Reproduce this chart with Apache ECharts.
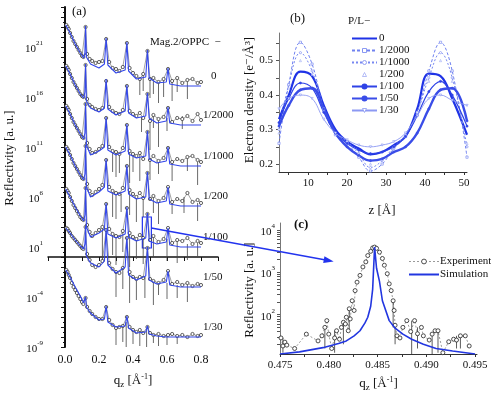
<!DOCTYPE html>
<html><head><meta charset="utf-8">
<script src="https://cdn.jsdelivr.net/npm/echarts@6/dist/echarts.min.js"></script>
<style>html,body{margin:0;padding:0;background:#fff}#c{width:491px;height:396px}</style>
</head><body><div id="c"></div>
<script>
const SERIF = '"Liberation Serif","DejaVu Serif",serif';
const INK = '#111';

// ---------- Panel (a): reflectivity curves (values are log10 of reflectivity) ----------
const CURVE_LABELS = ['0', '1/2000', '1/1000', '1/200', '1/100', '1/50', '1/30'];
const Q_SIM = [0.005, 0.03, 0.06, 0.09, 0.11, 0.117, 0.121, 0.126, 0.15, 0.2, 0.232, 0.242, 0.252, 0.3, 0.354, 0.364, 0.374, 0.42, 0.475, 0.485, 0.495, 0.54, 0.596, 0.606, 0.616, 0.68, 0.8];
const SIM_0    = [23.2, 22.4, 21.3, 20.4, 19.9, 20.4, 23.1, 20.0, 19.3, 18.9, 19.3, 21.9, 19.2, 18.4, 18.7, 21.5, 18.6, 17.8, 18.0, 20.7, 17.9, 17.4, 17.5, 18.9, 17.3, 17.1, 17.1];
const SIM_2000 = [19.1, 18.3, 17.2, 16.3, 15.9, 16.5, 19.3, 15.6, 14.9, 14.5, 14.9, 17.8, 14.8, 14.2, 14.6, 17.2, 14.4, 13.9, 14.1, 16.4, 13.9, 13.4, 13.6, 15.0, 13.4, 13.2, 13.2];
const SIM_1000 = [15.1, 14.3, 13.2, 12.3, 11.8, 12.4, 15.4, 11.2, 10.2, 10.6, 11.0, 14.0, 10.7, 10.2, 10.6, 13.3, 10.3, 9.9, 10.1, 12.6, 9.8, 9.4, 9.6, 11.0, 9.3, 9.1, 9.1];
const SIM_200  = [11.0, 10.2, 9.1, 8.2, 7.7, 8.3, 11.2, 7.0, 6.0, 6.5, 7.0, 9.8, 6.6, 6.2, 6.6, 9.2, 6.3, 5.8, 6.0, 8.5, 5.8, 5.4, 5.6, 7.0, 5.3, 5.1, 5.1];
const SIM_100  = [6.8, 6.0, 5.0, 4.1, 3.6, 4.2, 7.0, 3.0, 2.0, 2.4, 2.8, 5.4, 2.3, 1.9, 2.3, 5.0, 2.0, 1.6, 1.9, 4.4, 1.6, 1.3, 1.5, 2.9, 1.2, 1.0, 1.0];
const SIM_50   = [2.9, 2.4, 1.7, 1.1, 0.8, 1.3, 3.1, 0.1, -0.6, -1.0, -0.4, 2.8, -0.8, -1.6, -1.0, 2.0, -1.8, -2.3, -1.9, 1.0, -2.3, -2.7, -2.5, -1.4, -2.8, -3.0, -3.0];
const SIM_30   = [-1.3, -2.0, -3.0, -3.9, -4.6, -4.8, -4.0, -5.0, -5.6, -6.3, -6.2, -4.9, -6.5, -7.0, -6.9, -5.9, -7.1, -7.6, -7.5, -6.9, -7.7, -7.9, -8.0, -8.0, -8.0, -8.0, -8.0];

const Q_EXP = [0.008, 0.015, 0.022, 0.03, 0.04, 0.05, 0.06, 0.07, 0.08, 0.09, 0.1, 0.108, 0.121, 0.13, 0.145, 0.16, 0.18, 0.2, 0.22, 0.242, 0.26, 0.28, 0.3, 0.32, 0.34, 0.364, 0.38, 0.4, 0.42, 0.44, 0.46, 0.485, 0.5, 0.52, 0.55, 0.58, 0.606, 0.63, 0.66, 0.69, 0.72, 0.75, 0.78, 0.8];
const EXP_0    = [23.2, 23.0, 22.8, 22.4, 22.0, 21.6, 21.3, 21.0, 20.7, 20.4, 20.1, 20.0, 23.0, 20.3, 19.8, 19.6, 19.4, 19.5, 19.6, 21.8, 19.5, 18.9, 18.8, 18.6, 19.0, 21.4, 18.9, 18.4, 18.1, 17.8, 18.3, 20.6, 17.8, 17.9, 17.5, 17.8, 18.8, 17.6, 17.9, 17.4, 17.7, 17.8, 17.4, 17.5];
const EXP_2000 = [19.1, 18.9, 18.7, 18.3, 17.9, 17.5, 17.2, 16.9, 16.6, 16.3, 16.1, 16.0, 19.2, 15.8, 15.2, 15.0, 14.8, 14.7, 14.9, 17.6, 15.0, 14.6, 14.4, 14.3, 14.7, 17.1, 14.6, 14.3, 14.1, 14.4, 13.9, 16.3, 13.6, 14.2, 13.8, 14.0, 14.9, 13.5, 13.9, 13.8, 14.1, 13.6, 14.3, 13.7];
const EXP_1000 = [15.1, 14.9, 14.7, 14.3, 13.9, 13.5, 13.2, 12.9, 12.6, 12.3, 12.0, 11.9, 15.3, 11.4, 10.8, 10.4, 10.5, 10.8, 11.1, 13.9, 11.0, 10.6, 10.5, 10.3, 10.9, 13.2, 10.6, 10.3, 10.1, 10.4, 9.8, 12.5, 9.7, 10.1, 9.6, 9.9, 10.9, 9.5, 9.8, 9.6, 10.0, 10.1, 9.7, 9.5];
const EXP_200  = [11.0, 10.8, 10.6, 10.2, 9.8, 9.4, 9.1, 8.8, 8.5, 8.2, 7.9, 7.8, 11.1, 7.3, 6.6, 6.2, 6.5, 6.8, 7.2, 9.7, 7.0, 6.6, 6.4, 6.3, 6.9, 9.1, 6.7, 6.3, 6.0, 6.4, 5.9, 8.4, 5.8, 6.1, 5.6, 5.9, 7.0, 5.5, 5.8, 5.6, 6.4, 5.5, 5.7, 5.4];
const EXP_100  = [6.8, 6.6, 6.4, 6.0, 5.6, 5.2, 4.9, 4.6, 4.3, 4.0, 3.8, 3.7, 6.9, 3.2, 2.5, 2.1, 2.4, 2.7, 3.0, 5.3, 2.8, 2.3, 2.1, 2.0, 2.6, 4.9, 2.4, 2.0, 1.8, 2.2, 1.9, 4.3, 1.7, 2.1, 1.5, 1.8, 2.9, 1.4, 1.7, 1.6, 1.9, 1.3, 1.6, 1.4];
const EXP_50   = [2.9, 2.8, 2.6, 2.4, 2.1, 1.9, 1.7, 1.5, 1.3, 1.1, 0.9, 0.8, 3.0, 0.3, -0.3, -0.8, -1.0, -0.8, -0.4, 2.7, -0.6, -1.2, -1.5, -1.6, -1.1, 1.9, -1.5, -2.0, -2.2, -2.0, -2.1, 0.9, -2.2, -2.4, -2.6, -2.3, -1.4, -2.7, -2.5, -2.8, -2.6, -2.9, -2.7, -2.8];
const EXP_30   = [-1.3, -1.5, -1.8, -2.1, -2.6, -3.0, -3.3, -3.6, -3.9, -4.2, -4.5, -4.7, -4.1, -5.0, -5.4, -5.7, -6.0, -6.2, -6.2, -5.0, -6.3, -6.8, -7.1, -7.0, -6.9, -6.0, -7.0, -7.3, -7.5, -7.3, -7.6, -7.0, -7.6, -7.8, -7.7, -7.9, -7.8, -7.7, -7.9, -7.8, -8.0, -7.7, -7.9, -7.8];

// error bars: [qz, top, bottom] in log10 units
const ERR_0    = [[0.44,17.8,16.2],[0.46,18.3,16.6],[0.5,17.8,15.9],[0.52,17.9,16.3],[0.55,17.5,15.4],[0.58,17.8,16.0],[0.63,17.6,15.6],[0.66,17.9,16.5],[0.72,17.7,15.8]];
const ERR_2000 = [[0.45,14.0,12.5],[0.5,13.6,10.7],[0.52,14.2,12.9],[0.55,13.8,11.0],[0.6,13.9,12.6],[0.69,14.1,12.8]];
const ERR_1000 = [[0.28,10.6,8.5],[0.3,10.5,8.0],[0.32,10.3,8.4],[0.38,10.6,7.4],[0.4,10.3,8.5],[0.44,10.4,7.6],[0.5,9.7,7.7],[0.55,9.6,8.3],[0.63,9.5,7.6],[0.72,10.1,8.6],[0.78,9.5,7.2]];
const ERR_200  = [[0.28,6.6,4.0],[0.3,6.4,3.8],[0.33,6.3,4.5],[0.38,6.7,4.2],[0.42,6.0,3.5],[0.46,5.9,4.0],[0.52,6.1,4.4],[0.55,5.6,3.3],[0.63,5.5,4.3],[0.7,6.0,4.4],[0.78,5.4,3.6]];
const ERR_100  = [[0.22,3.0,-0.5],[0.28,2.3,0.2],[0.3,2.1,-0.8],[0.34,2.6,0.5],[0.38,2.4,-1.0],[0.42,1.8,-0.2],[0.46,1.9,-0.7],[0.52,2.1,0.0],[0.6,1.8,-0.4],[0.66,1.6,-0.6],[0.72,1.3,-0.3],[0.78,1.4,0.1]];
const ERR_50   = [[0.3,-1.5,-4.0],[0.34,-1.1,-3.2],[0.38,-1.5,-4.6],[0.42,-2.2,-4.3],[0.47,-2.0,-4.1],[0.52,-2.4,-4.8],[0.55,-2.6,-3.8],[0.6,-2.6,-4.2],[0.66,-2.8,-4.1],[0.72,-2.6,-4.5]];
const ERR_30   = [[0.3,-7.1,-8.8],[0.34,-6.9,-8.5],[0.36,-6.5,-9.0],[0.4,-7.3,-8.7],[0.44,-7.3,-8.9],[0.48,-7.2,-9.0],[0.52,-7.8,-8.6],[0.55,-7.7,-8.9],[0.6,-7.8,-8.8],[0.66,-7.8,-8.7]];

const A_Y_TICKLABELS = [-9, -4, 1, 6, 11, 16, 21];
const A_X_TICKLABELS = [0.0, 0.2, 0.4, 0.6, 0.8];

// ---------- Panel (b): electron density profiles ----------
const Z = [2.5, 5, 8, 11, 14, 17, 20, 23, 26, 29, 32, 35, 38, 41, 44, 47, 50.8];
const ED_0    = [0.33, 0.40, 0.468, 0.455, 0.37, 0.30, 0.265, 0.245, 0.228, 0.235, 0.255, 0.28, 0.36, 0.462, 0.455, 0.39, 0.285];
const ED_2000 = [0.26, 0.43, 0.553, 0.49, 0.36, 0.285, 0.26, 0.22, 0.18, 0.20, 0.245, 0.28, 0.35, 0.47, 0.553, 0.47, 0.22];
const ED_1000 = [0.30, 0.43, 0.523, 0.47, 0.36, 0.29, 0.265, 0.23, 0.19, 0.21, 0.25, 0.285, 0.35, 0.45, 0.523, 0.45, 0.25];
const ED_200  = [0.29, 0.42, 0.50, 0.46, 0.355, 0.29, 0.262, 0.232, 0.20, 0.215, 0.25, 0.283, 0.345, 0.44, 0.50, 0.44, 0.26];
const ED_100  = [0.32, 0.39, 0.435, 0.42, 0.35, 0.29, 0.26, 0.24, 0.23, 0.235, 0.25, 0.28, 0.34, 0.41, 0.44, 0.40, 0.31];
const ED_50   = [0.31, 0.37, 0.415, 0.42, 0.36, 0.29, 0.25, 0.225, 0.21, 0.215, 0.235, 0.25, 0.29, 0.36, 0.415, 0.42, 0.325];
const ED_30   = [0.36, 0.39, 0.40, 0.39, 0.33, 0.29, 0.27, 0.255, 0.25, 0.255, 0.265, 0.29, 0.34, 0.39, 0.40, 0.385, 0.37];
const B_X_TICKLABELS = [10, 20, 30, 40, 50];
const B_Y_TICKLABELS = [0.2, 0.3, 0.4, 0.5];

// ---------- Panel (c): 4th Bragg peak of 1/100 (log10 reflectivity) ----------
const C_EXP = [[0.4751,1.45],[0.4753,1.26],[0.4755,1.35],[0.4757,1.28],[0.4765,1.2],[0.4777,1.54],[0.4789,1.38],[0.4793,1.5],[0.4796,1.70],[0.4798,1.86],[0.48,1.54],[0.4803,1.2],[0.4806,1.45],[0.4808,1.62],[0.4811,1.42],[0.4813,1.70],[0.4815,1.82],[0.4817,1.78],[0.4818,1.94],[0.482,1.62],[0.4821,2.14],[0.4822,1.9],[0.4824,2.33],[0.4826,2.1],[0.4827,2.57],[0.4829,2.77],[0.4832,2.93],[0.4835,3.13],[0.4838,3.25],[0.484,3.40],[0.4843,3.5],[0.4845,3.58],[0.4847,3.6],[0.4849,3.57],[0.4852,3.48],[0.4855,3.33],[0.4857,3.17],[0.486,2.97],[0.4862,2.73],[0.4864,2.57],[0.4866,2.33],[0.4867,2.1],[0.4868,1.75],[0.487,1.5],[0.4873,1.45],[0.4876,1.70],[0.488,1.86],[0.4884,1.6],[0.4888,1.86],[0.4891,1.55],[0.4895,1.70],[0.4897,1.5],[0.4903,1.4],[0.4906,1.54],[0.4909,1.62],[0.4912,1.62],[0.4917,1.1],[0.4923,1.36],[0.4928,1.42],[0.4931,1.4],[0.4935,1.5],[0.494,1.5],[0.4944,1.26]];
const C_ERR = [[0.4753,1.45,1.1],[0.4796,1.70,1.2],[0.4806,1.62,1.1],[0.4815,1.82,1.3],[0.4821,2.14,1.6],[0.4866,2.33,1.7],[0.4868,1.75,1.3],[0.4885,1.86,1.07],[0.4891,1.7,1.2],[0.4906,1.54,1.07],[0.4912,1.62,1.1],[0.4931,1.5,1.2],[0.4935,1.5,1.2]];
const C_SIM = [[0.475,1.07],[0.477,1.12],[0.4794,1.22],[0.481,1.32],[0.4818,1.38],[0.4826,1.5],[0.4832,1.62],[0.4837,1.8],[0.484,1.94],[0.4843,2.2],[0.4845,2.6],[0.4847,3.6],[0.4849,3.1],[0.4852,2.79],[0.4855,2.33],[0.4862,1.86],[0.4868,1.68],[0.4876,1.54],[0.4885,1.42],[0.4897,1.30],[0.491,1.2],[0.4927,1.14],[0.495,1.07]];
const C_X_TICKLABELS = [0.475, 0.480, 0.485, 0.490, 0.495];
const C_Y_TICKLABELS = [2, 3, 4];

// ---------- build ----------
const chart = echarts.init(document.getElementById('c'), null, {renderer: 'canvas'});
const SIMS = [SIM_0, SIM_2000, SIM_1000, SIM_200, SIM_100, SIM_50, SIM_30];
const EXPS = [EXP_0, EXP_2000, EXP_1000, EXP_200, EXP_100, EXP_50, EXP_30];
const ERRS = [ERR_0, ERR_2000, ERR_1000, ERR_200, ERR_100, ERR_50, ERR_30];

function errRender(color, width) {
  return function (params, api) {
    const p1 = api.coord([api.value(0), api.value(1)]);
    const p2 = api.coord([api.value(0), api.value(2)]);
    return {type: 'line', shape: {x1: p1[0], y1: p1[1], x2: p2[0], y2: p2[1]},
            style: {stroke: color, lineWidth: width}};
  };
}
const supRich = {
  b: {fontSize: 11, fontFamily: SERIF, color: INK, lineHeight: 15, verticalAlign: 'bottom'},
  s: {fontSize: 7, fontFamily: SERIF, color: INK, lineHeight: 15, verticalAlign: 'top'}
};
const qzName = '{a|q}{sub|z}{a| [Å}{sup|-1}{a|]}';
const qzRich = {
  a: {fontSize: 13, fontFamily: SERIF, color: INK, lineHeight: 16, verticalAlign: 'middle'},
  sub: {fontSize: 9, fontFamily: SERIF, color: INK, lineHeight: 16, verticalAlign: 'bottom'},
  sup: {fontSize: 8, fontFamily: SERIF, color: INK, lineHeight: 16, verticalAlign: 'top'}
};

const series = [];
for (let i = 0; i < 7; i++) {
  series.push({
    type: 'custom', xAxisIndex: 0, yAxisIndex: 0, z: 1, silent: true,
    renderItem: errRender('#444', 0.8), encode: {x: 0, y: [1, 2]}, data: ERRS[i], clip: true
  });
  series.push({
    type: 'line', xAxisIndex: 0, yAxisIndex: 0, z: 2, silent: true,
    data: Q_EXP.map((q, j) => [q, EXPS[i][j]]),
    symbol: 'circle', symbolSize: 3.2, showSymbol: true,
    itemStyle: {color: '#fff', borderColor: '#222', borderWidth: 0.7},
    lineStyle: {color: '#444', width: 0.5}
  });
  const sim = {
    type: 'line', xAxisIndex: 0, yAxisIndex: 0, z: 3, silent: true,
    data: Q_SIM.map((q, j) => [q, SIMS[i][j]]),
    showSymbol: false, lineStyle: {color: '#3347ea', width: 1.1},
    endLabel: {show: true, formatter: CURVE_LABELS[i], offset: [i === 0 ? 2 : -6, -10],
               fontSize: 11, fontFamily: SERIF, color: INK}
  };
  if (i === 4) {
    sim.markArea = {silent: true, itemStyle: {color: 'rgba(0,0,0,0)', borderColor: '#2233ee', borderWidth: 1.2},
                    data: [[{coord: [0.455, 4.0]}, {coord: [0.508, 0.9]}]]};
  }
  series.push(sim);
}

const bStyles = [
  {name: '0', d: ED_0, color: '#1f33e6', width: 2.2, type: 'solid', symbol: 'none'},
  {name: '1/2000', d: ED_2000, color: '#7082f0', width: 1, type: [3, 2], symbol: 'rect', hollow: true},
  {name: '1/1000', d: ED_1000, color: '#7888f1', width: 1, type: [2, 2], symbol: 'circle', hollow: true},
  {name: '1/200', d: ED_200, color: '#8a97f2', width: 0, type: 'solid', symbol: 'triangle', hollow: true},
  {name: '1/100', d: ED_100, color: '#2f43e6', width: 1.2, type: 'solid', symbol: 'circle'},
  {name: '1/50', d: ED_50, color: '#3a4de8', width: 2.4, type: 'solid', symbol: 'circle'},
  {name: '1/30', d: ED_30, color: '#8c99f3', width: 0.9, type: 'solid', symbol: 'triangle', hollow: true, rot: 180}
];
bStyles.forEach(s => {
  series.push({
    name: s.name, type: 'line', xAxisIndex: 1, yAxisIndex: 1, smooth: 0.4, silent: true,
    data: Z.map((z, j) => [z, s.d[j]]),
    symbol: s.symbol, symbolSize: 2.2, symbolRotate: s.rot || 0, showSymbol: s.symbol !== 'none',
    itemStyle: {color: s.hollow ? '#fff' : s.color, borderColor: s.color, borderWidth: 0.6,
                opacity: s.symbol === 'triangle' && !s.width ? 0.8 : 1},
    lineStyle: {color: s.color, width: s.width, type: s.type, opacity: s.width ? 1 : 0}
  });
});

series.push({
  type: 'custom', xAxisIndex: 2, yAxisIndex: 2, z: 1, silent: true,
  renderItem: errRender('#333', 0.8), encode: {x: 0, y: [1, 2]}, data: C_ERR
});
series.push({
  name: 'Experiment', type: 'line', xAxisIndex: 2, yAxisIndex: 2, z: 2, silent: true,
  data: C_EXP, symbol: 'circle', symbolSize: 4, showSymbol: true,
  itemStyle: {color: '#fff', borderColor: '#222', borderWidth: 0.8},
  lineStyle: {color: '#555', width: 0.6, type: [2, 2]}
});
series.push({
  name: 'Simulation', type: 'line', xAxisIndex: 2, yAxisIndex: 2, z: 3, silent: true,
  data: C_SIM, symbol: 'none', showSymbol: false, itemStyle: {color: '#2236e0'},
  lineStyle: {color: '#2236e0', width: 1.6}
});

const cMinorTicks = [];
for (let e = 1; e <= 3; e++) for (let k = 1; k <= 9; k++) {
  const v = e + Math.log10(k);
  if (v >= 1.07 && v <= 4.17) cMinorTicks.push(v);
}
cMinorTicks.push(4);

const axisLbl = {fontSize: 11, fontFamily: SERIF, color: INK};
const noSym = {opacity: 0};
const hollowLeg = c => ({color: '#fff', borderColor: c, borderWidth: 0.8});

chart.setOption({
  animation: false,
  backgroundColor: '#fff',
  grid: [
    {left: 48, top: 7, width: 170, height: 340},
    {left: 279, top: 33, width: 188, height: 139},
    {left: 280, top: 223, width: 197, height: 131}
  ],
  xAxis: [
    {gridIndex: 0, type: 'value', min: -0.1, max: 0.9, interval: 0.1,
     axisLine: {lineStyle: {color: INK, width: 1.5}}, splitLine: {show: false},
     axisTick: {length: 4, lineStyle: {color: INK}},
     axisLabel: Object.assign({customValues: A_X_TICKLABELS, formatter: v => v.toFixed(1), margin: 7}, axisLbl, {fontSize: 12}),
     name: qzName, nameLocation: 'middle', nameGap: 26, nameTextStyle: {rich: qzRich}},
    {gridIndex: 1, type: 'value', min: 2.5, max: 50.8,
     axisLine: {lineStyle: {color: '#333', width: 1}}, splitLine: {show: false},
     axisTick: {customValues: [5, 10, 15, 20, 25, 30, 35, 40, 45, 50], length: 3, lineStyle: {color: '#333'}},
     axisLabel: Object.assign({customValues: B_X_TICKLABELS, margin: 6}, axisLbl),
     name: 'z [Å]', nameLocation: 'middle', nameGap: 32,
     nameTextStyle: {fontSize: 13, fontFamily: SERIF, color: INK, padding: [0, 0, 0, 18]}},
    {gridIndex: 2, type: 'value', min: 0.475, max: 0.4952,
     axisLine: {lineStyle: {color: '#333', width: 1}}, splitLine: {show: false},
     axisTick: {customValues: [0.475, 0.4775, 0.48, 0.4825, 0.485, 0.4875, 0.49, 0.4925, 0.495], length: 3, lineStyle: {color: '#333'}},
     axisLabel: Object.assign({customValues: C_X_TICKLABELS, formatter: v => v.toFixed(3), margin: 6}, axisLbl),
     name: qzName, nameLocation: 'middle', nameGap: 22, nameTextStyle: {rich: qzRich}}
  ],
  yAxis: [
    {gridIndex: 0, type: 'value', min: -9, max: 25, interval: 1,
     axisLine: {lineStyle: {color: INK, width: 2}}, splitLine: {show: false},
     axisTick: {length: 4, lineStyle: {color: INK}},
     minorTick: {show: true, splitNumber: 2, length: 2, lineStyle: {color: INK}},
     axisLabel: {customValues: A_Y_TICKLABELS, formatter: v => '{b|10}{s|' + v + '}', rich: supRich, margin: 5}},
    {gridIndex: 1, type: 'value', min: 0.177, max: 0.58,
     axisLine: {lineStyle: {color: '#777', width: 1}}, splitLine: {show: false},
     axisTick: {customValues: [0.2, 0.25, 0.3, 0.35, 0.4, 0.45, 0.5, 0.55], length: 3, lineStyle: {color: '#555'}},
     axisLabel: Object.assign({customValues: B_Y_TICKLABELS, formatter: v => v.toFixed(1), margin: 6}, axisLbl)},
    {gridIndex: 2, type: 'value', min: 1.07, max: 4.17,
     axisLine: {lineStyle: {color: '#777', width: 1}}, splitLine: {show: false},
     axisTick: {customValues: cMinorTicks, length: 3, lineStyle: {color: '#555'}},
     axisLabel: {customValues: C_Y_TICKLABELS, formatter: v => '{b|10}{s|' + v + '}', rich: supRich, margin: 5}}
  ],
  legend: [
    {data: [{name: '0', itemStyle: noSym},
            {name: '1/2000', itemStyle: hollowLeg('#7082f0')},
            {name: '1/1000', itemStyle: hollowLeg('#7888f1')},
            {name: '1/200', lineStyle: {opacity: 0}, itemStyle: hollowLeg('#8a97f2')},
            '1/100', '1/50',
            {name: '1/30', itemStyle: hollowLeg('#8c99f3')}],
     orient: 'vertical', left: 346, top: 28, itemWidth: 25, itemHeight: 5, itemGap: 1, selectedMode: false,
     textStyle: {fontSize: 11, fontFamily: SERIF, color: INK, lineHeight: 11, padding: [0, 0, 0, -3]}},
    {data: [{name: 'Experiment', lineStyle: {width: 0.6}, itemStyle: {color: '#fff', borderColor: '#222', borderWidth: 0.8}},
            {name: 'Simulation', itemStyle: noSym}],
     orient: 'vertical', left: 403, top: 251,
     itemWidth: 30, itemHeight: 6, itemGap: 2, selectedMode: false,
     textStyle: {fontSize: 11, fontFamily: SERIF, color: INK, padding: [0, 0, 0, -4]}}
  ],
  graphic: [
    {id: 'la', type: 'text', left: 72, top: 5, style: {text: '(a)', font: '13px ' + SERIF, fill: INK}},
    {id: 'lb', type: 'text', left: 290, top: 12, style: {text: '(b)', font: '13px ' + SERIF, fill: INK}},
    {id: 'lc', type: 'text', left: 294, top: 218, style: {text: '(c)', font: 'bold 13px ' + SERIF, fill: INK}},
    {id: 'mag', type: 'text', left: 150, top: 37, style: {text: 'Mag.2/OPPC  −', font: '11px ' + SERIF, fill: INK}},
    {id: 'pl', type: 'text', left: 348, top: 16, style: {text: 'P/L−', font: '11px ' + SERIF, fill: INK}},
    {id: 'ya', type: 'text', x: 10, y: 158, rotation: Math.PI / 2,
     style: {text: 'Reflectivity [a. u.]', font: '13px ' + SERIF, fill: INK, align: 'center', verticalAlign: 'middle'}},
    {id: 'yb', type: 'text', x: 250, y: 100, rotation: Math.PI / 2,
     style: {text: 'Electron density [e⁻/Å³]', font: '13px ' + SERIF, fill: INK, align: 'center', verticalAlign: 'middle'}},
    {id: 'yc', type: 'text', x: 250, y: 290, rotation: Math.PI / 2,
     style: {text: 'Reflectivity [a. u.]', font: '13px ' + SERIF, fill: INK, align: 'center', verticalAlign: 'middle'}}
  ],
  series: series
});

// zoom arrow from the box in (a) to panel (c), positioned through the axes
const p1 = chart.convertToPixel({xAxisIndex: 0, yAxisIndex: 0}, [0.508, 2.9]);
const p2 = chart.convertToPixel({xAxisIndex: 2, yAxisIndex: 2}, [0.4805, 3.26]);
const dx = p2[0] - p1[0], dy = p2[1] - p1[1], L = Math.hypot(dx, dy);
const ux = dx / L, uy = dy / L, nx = -uy, ny = ux, hl = 10, hw = 3.5;
chart.setOption({
  graphic: [
    {id: 'arrowLine', type: 'line', z: 100, shape: {x1: p1[0], y1: p1[1], x2: p2[0] - ux * hl * 0.8, y2: p2[1] - uy * hl * 0.8},
     style: {stroke: '#2233ee', lineWidth: 1.3}},
    {id: 'arrowHead', type: 'polygon', z: 100,
     shape: {points: [[p2[0], p2[1]], [p2[0] - ux * hl + nx * hw, p2[1] - uy * hl + ny * hw], [p2[0] - ux * hl - nx * hw, p2[1] - uy * hl - ny * hw]]},
     style: {fill: '#2233ee'}}
  ]
});
</script>
</body></html>
